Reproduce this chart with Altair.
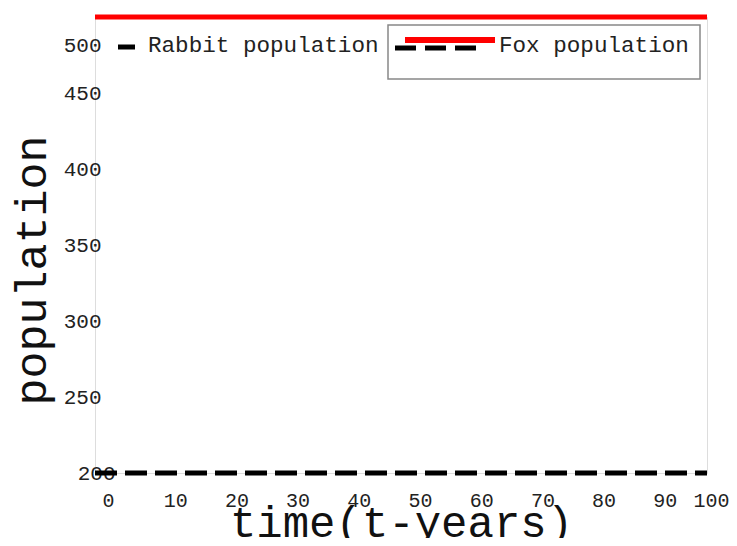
import altair as alt
import pandas as pd

# ---- data ----
time = [0, 100]
rabbit_values = [500, 500]
fox_values = [200, 200]
x_ticks = [0, 10, 20, 30, 40, 50, 60, 70, 80, 90, 100]
y_ticks = [200, 250, 300, 350, 400, 450, 500]
legend_labels = ["Rabbit population", "Fox population"]

FONT = "Liberation Mono"

df = pd.DataFrame({"time": time, "rabbit": rabbit_values, "fox": fox_values})
one = pd.DataFrame({"k": [0]})

xs = alt.Scale(domain=[0, 100], nice=False, zero=False)
ys = alt.Scale(domain=[200, 500], nice=False, zero=False)

x_axis = alt.Axis(
    values=x_ticks, title="time(t-years)", grid=False, domain=False, ticks=False,
    labelFont=FONT, labelFontSize=20, labelColor="#222", labelAlign="left",
    labelBaseline="middle", labelPadding=27,
    labelOffset={"condition": {"test": "datum.value == 100", "value": -14}, "value": 7},
    labelOverlap=False, labelFlush=False, labelBound=False,
    titleFont=FONT, titleFontSize=44, titleFontWeight="normal", titleColor="#111",
    titleY=63, titleBaseline="alphabetic", titleAlign="center",
)
y_axis = alt.Axis(
    values=y_ticks, title="population", grid=False, domain=False, ticks=False,
    labelFont=FONT, labelFontSize=21, labelColor="#222", labelAlign="right",
    labelBaseline="middle",
    labelPadding={"condition": {"test": "datum.value == 200", "value": -20}, "value": -6},
    labelOffset={"condition": {"test": "datum.value == 500", "value": 28}, "value": 0},
    labelOverlap=False, labelFlush=False, labelBound=False,
    titleFont=FONT, titleFontSize=45, titleFontWeight="normal", titleColor="#111",
    titleX=-64, titleY=253, titleAngle=270, titleAlign="center", titleBaseline="middle",
)

red = alt.Chart(df).mark_line(color="#ff0000", strokeWidth=5, strokeCap="butt").encode(
    x=alt.X("time:Q", scale=xs, axis=x_axis),
    y=alt.Y("rabbit:Q", scale=ys, axis=y_axis),
)
black = alt.Chart(df).mark_line(color="black", strokeWidth=5, strokeDash=[22, 8], strokeCap="butt").encode(
    x=alt.X("time:Q", scale=xs),
    y=alt.Y("fox:Q", scale=ys),
)

# ---- legend (drawn by hand, as in the reference) ----
box = alt.Chart(one).mark_rect(fill="white", stroke="#888", strokeWidth=1.5).encode(
    x=alt.value(293), x2=alt.value(605), y=alt.value(8), y2=alt.value(62)
)
rabbit_key = alt.Chart(one).mark_rule(color="black", strokeWidth=5, strokeCap="butt").encode(
    x=alt.value(23), x2=alt.value(40), y=alt.value(30)
)
rabbit_txt = alt.Chart(one).mark_text(
    text=legend_labels[0], font=FONT, fontSize=22.6, align="left", baseline="middle", color="#222"
).encode(x=alt.value(53), y=alt.value(28))
fox_red = alt.Chart(one).mark_rule(color="#ff0000", strokeWidth=6, strokeCap="butt").encode(
    x=alt.value(310), x2=alt.value(400), y=alt.value(23)
)
fox_black = alt.Chart(one).mark_rule(color="black", strokeWidth=5, strokeDash=[21, 9], strokeCap="butt").encode(
    x=alt.value(300), x2=alt.value(382), y=alt.value(31)
)
fox_txt = alt.Chart(one).mark_text(
    text=legend_labels[1], font=FONT, fontSize=22.6, align="left", baseline="middle", color="#222"
).encode(x=alt.value(404), y=alt.value(28))

chart = alt.layer(red, black, box, rabbit_key, rabbit_txt, fox_red, fox_black, fox_txt).properties(
    width=612, height=456,
    autosize=alt.AutoSizeParams(type="none"),
    padding={"left": 87, "top": 9, "right": 22, "bottom": 65},
).configure_view(stroke="#888", strokeWidth=2).configure(background="white")

chart.save("out.html", embed_options={"renderer": "svg", "actions": False})
